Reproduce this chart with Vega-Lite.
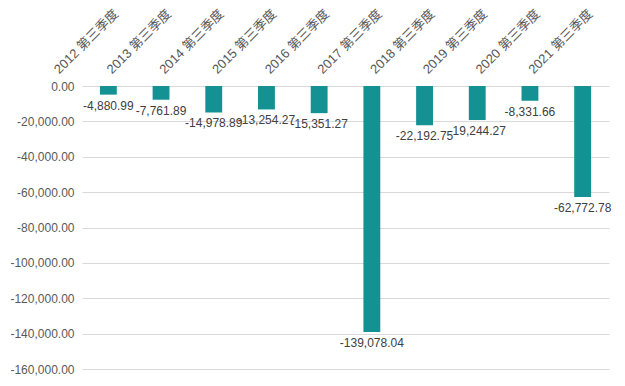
{
  "$schema": "https://vega.github.io/schema/vega-lite/v6.json",
  "autosize": "none",
  "width": 527,
  "height": 283,
  "padding": {"left": 82, "top": 86, "right": 16, "bottom": 17},
  "background": "white",
  "config": {
    "font": "'Liberation Sans', 'Noto Sans CJK SC', sans-serif",
    "view": {"stroke": null},
    "locale": {
      "number": {"decimal": ".", "thousands": ",", "grouping": [3], "currency": ["", ""], "minus": "-"}
    }
  },
  "data": {
    "values": [
      {"period": "2012 第三季度", "value": -4880.99},
      {"period": "2013 第三季度", "value": -7761.89},
      {"period": "2014 第三季度", "value": -14978.89},
      {"period": "2015 第三季度", "value": -13254.27},
      {"period": "2016 第三季度", "value": -15351.27},
      {"period": "2017 第三季度", "value": -139078.04},
      {"period": "2018 第三季度", "value": -22192.75},
      {"period": "2019 第三季度", "value": -19244.27},
      {"period": "2020 第三季度", "value": -8331.66},
      {"period": "2021 第三季度", "value": -62772.78}
    ]
  },
  "encoding": {
    "x": {
      "field": "period",
      "type": "nominal",
      "sort": null,
      "scale": {"paddingInner": 0.68, "paddingOuter": 0.34},
      "axis": {
        "orient": "top",
        "title": null,
        "domain": false,
        "ticks": false,
        "labelAngle": -45,
        "labelAlign": "left",
        "labelBaseline": "alphabetic",
        "labelOffset": -49,
        "labelPadding": 12,
        "labelFontSize": 13,
        "labelColor": "#595959",
        "labelFont": "'Liberation Sans', 'Noto Sans CJK SC', sans-serif"
      }
    },
    "y": {
      "field": "value",
      "type": "quantitative",
      "scale": {"domain": [-160000, 0], "nice": false},
      "axis": {
        "title": null,
        "values": [0, -20000, -40000, -60000, -80000, -100000, -120000, -140000, -160000],
        "format": ",.2f",
        "domain": false,
        "ticks": false,
        "labelPadding": 8,
        "labelFontSize": 12,
        "labelColor": "#595959",
        "gridColor": "#d9d9d9",
        "gridWidth": 1
      }
    }
  },
  "layer": [
    {"mark": {"type": "bar", "color": "#149193"}},
    {
      "mark": {"type": "text", "baseline": "top", "dy": 6, "fontSize": 12, "color": "#404040"},
      "encoding": {"text": {"field": "value", "type": "quantitative", "format": ",.2f"}}
    }
  ]
}
